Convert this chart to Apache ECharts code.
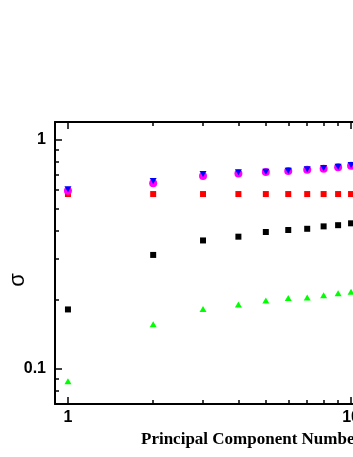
<!DOCTYPE html>
<html>
<head>
<meta charset="utf-8">
<script src="https://cdn.jsdelivr.net/npm/echarts@6/dist/echarts.min.js"></script>
<style>
  html, body { margin: 0; padding: 0; background: #fff; }
  #chart { width: 353px; height: 457px; }
</style>
</head>
<body>
<div id="chart"></div>
<script>
// principal component index
const components = [1, 2, 3, 4, 5, 6, 7, 8, 9, 10];

// sigma values
const sigmaBlack   = [0.181, 0.313, 0.362, 0.376, 0.394, 0.402, 0.407, 0.417, 0.422, 0.430];
const sigmaRed     = [0.577, 0.577, 0.577, 0.577, 0.577, 0.577, 0.577, 0.577, 0.577, 0.577];
const sigmaMagenta = [0.597, 0.643, 0.691, 0.710, 0.720, 0.727, 0.737, 0.744, 0.755, 0.767];
const sigmaBlue    = [0.605, 0.658, 0.705, 0.718, 0.722, 0.730, 0.740, 0.749, 0.759, 0.772];
const sigmaGreen   = [0.088, 0.156, 0.182, 0.190, 0.198, 0.203, 0.204, 0.209, 0.213, 0.216];

// ticks
const xMajorTicks = [1, 10];
const xMinorTicks = [2, 3, 4, 5, 6, 7, 8, 9, 20];
const yMajorTicks = [0.1, 1];
const yMinorTicks = [0.08, 0.09, 0.2, 0.3, 0.4, 0.5, 0.6, 0.7, 0.8, 0.9];

const X_MIN = 0.9, X_MAX = 22;
const Y_MIN = 0.07, Y_MAX = 1.19;

const pairs = ys => components.map((x, i) => [x, ys[i]]);

const labelFont = { color: '#000', fontFamily: 'Liberation Sans', fontWeight: 'bold', fontSize: 16 };
const lineStyle = { color: '#000', width: 2 };

function xAxisOf(position, values, len, main) {
  return {
    type: 'log', min: X_MIN, max: X_MAX, position: position,
    axisLine: { show: main, lineStyle: lineStyle },
    axisTick: { show: true, inside: true, length: len, customValues: values, lineStyle: { color: '#000', width: 1.5 } },
    axisLabel: { show: main && position === 'bottom', customValues: xMajorTicks, margin: 6, ...labelFont },
    splitLine: { show: false },
    minorTick: { show: false },
    name: main && position === 'bottom' ? 'Principal Component Number' : '',
    nameLocation: 'middle',
    nameGap: 21,
    nameTextStyle: { color: '#000', fontFamily: 'Liberation Serif', fontWeight: 'bold', fontSize: 17 }
  };
}

function yAxisOf(position, values, len, main) {
  return {
    type: 'log', min: Y_MIN, max: Y_MAX, position: position,
    axisLine: { show: main, lineStyle: lineStyle },
    axisTick: { show: true, inside: true, length: len, customValues: values, lineStyle: { color: '#000', width: 1.5 } },
    axisLabel: { show: main && position === 'left', customValues: yMajorTicks, margin: 9, ...labelFont },
    splitLine: { show: false },
    minorTick: { show: false }
  };
}

const dot = color => ({ color: color, opacity: 1 });

const chart = echarts.init(document.getElementById('chart'), null, { renderer: 'canvas' });
chart.setOption({
  backgroundColor: '#fff',
  animation: false,
  grid: { left: 55, top: 122, width: 393, height: 282, containLabel: false, outerBoundsMode: 'none' },
  xAxis: [
    xAxisOf('bottom', xMajorTicks, 7, true),
    xAxisOf('bottom', xMinorTicks, 4, false),
    xAxisOf('top', xMajorTicks, 7, true),
    xAxisOf('top', xMinorTicks, 4, false)
  ],
  yAxis: [
    yAxisOf('left', yMajorTicks, 7, true),
    yAxisOf('left', yMinorTicks, 4, false),
    yAxisOf('right', yMajorTicks, 7, true)
  ],
  graphic: [{
    type: 'text',
    x: 18, y: 280,
    rotation: Math.PI / 2,
    style: { text: 'σ', fontFamily: 'Liberation Sans', fontSize: 22, fill: '#000', align: 'center', verticalAlign: 'middle' }
  }],
  series: [
    { type: 'scatter', data: pairs(sigmaBlack), symbol: 'rect', symbolSize: 6, itemStyle: dot('#000000') },
    { type: 'scatter', data: pairs(sigmaRed), symbol: 'rect', symbolSize: 6, itemStyle: dot('#ff0000') },
    { type: 'scatter', data: pairs(sigmaMagenta), symbol: 'circle', symbolSize: 8, itemStyle: dot('#ff00ff') },
    { type: 'scatter', data: pairs(sigmaBlue), symbol: 'triangle', symbolRotate: 180, symbolSize: [7, 6], itemStyle: dot('#0000ff') },
    { type: 'scatter', data: pairs(sigmaGreen), symbol: 'triangle', symbolSize: [7, 6], itemStyle: dot('#00ff00') }
  ]
});
</script>
</body>
</html>
